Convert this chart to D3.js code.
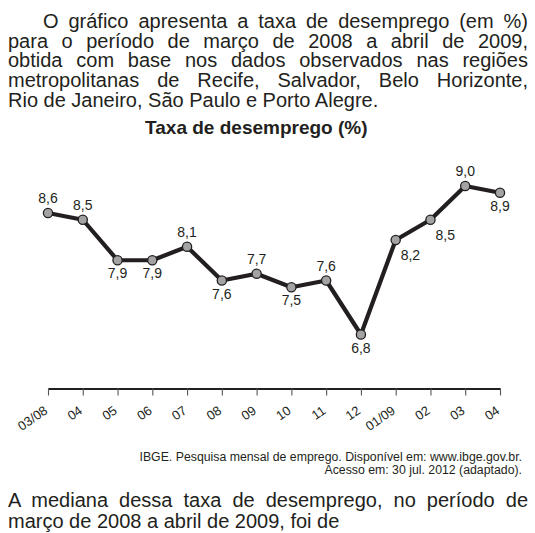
<!DOCTYPE html>
<html>
<head>
<meta charset="utf-8">
<script src="https://cdn.jsdelivr.net/npm/d3@7"></script>
<style>
  html, body { margin: 0; padding: 0; background: #fff; }
  svg { display: block; }
  text { font-family: "Liberation Sans", Arial, sans-serif; fill: #231f20; }
</style>
</head>
<body>
<svg id="chart" width="535" height="533"></svg>
<script>
// ---- data ----
const months = ["03/08","04","05","06","07","08","09","10","11","12","01/09","02","03","04"];
const values = [8.6, 8.5, 7.9, 7.9, 8.1, 7.6, 7.7, 7.5, 7.6, 6.8, 8.2, 8.5, 9.0, 8.9];
const labelSide = ["above","above","below","below","above","below","above","below","above","below","right","right","above","below"];
const title = "Taxa de desemprego (%)";
const introLines = [
  "O gráfico apresenta a taxa de desemprego (em %)",
  "para o período de março de 2008 a abril de 2009,",
  "obtida com base nos dados observados nas regiões",
  "metropolitanas de Recife, Salvador, Belo Horizonte,",
  "Rio de Janeiro, São Paulo e Porto Alegre."
];
const sourceLines = [
  "IBGE. Pesquisa mensal de emprego. Disponível em: www.ibge.gov.br.",
  "Acesso em: 30 jul. 2012 (adaptado)."
];
const questionLines = [
  "A mediana dessa taxa de desemprego, no período de",
  "março de 2008 a abril de 2009, foi de"
];

const svg = d3.select("#chart");
const ink = "#231f20";

// ---- justified paragraph helper (one text element, one tspan per line) ----
function paragraph(lines, x0, x1, firstIndent, y0, lh, size) {
  const t = svg.append("text").attr("font-size", size);
  lines.forEach((ln, i) => {
    const left = i === 0 ? x0 + firstIndent : x0;
    const ts = t.append("tspan")
      .attr("x", left).attr("y", y0 + i * lh)
      .text(ln);
    if (i < lines.length - 1) {
      const w = ts.node().getComputedTextLength();
      const gaps = ln.split(" ").length - 1;
      if (gaps > 0) ts.attr("word-spacing", (x1 - left - w) / gaps);
    }
  });
}

paragraph(introLines, 8, 528, 35, 28, 19.7, 20);
paragraph(questionLines, 8, 528, 0, 507, 21, 20);

const src = svg.append("text")
  .attr("text-anchor", "end")
  .attr("font-size", 12.3);
src.selectAll("tspan").data(sourceLines).join("tspan")
  .attr("x", 522).attr("y", (d, i) => 460.5 + i * 13)
  .text(d => d);

svg.append("text")
  .attr("x", 256.3).attr("y", 134.3)
  .attr("text-anchor", "middle")
  .attr("font-size", 19).attr("font-weight", "bold")
  .text(title);

// ---- scales ----
const x = d3.scaleLinear().domain([0, months.length - 1]).range([48, 500]);
const y = d3.scaleLinear().domain([6, 9]).range([388.5, 186]);

// ---- axis ----
const axis = d3.axisBottom(x)
  .tickValues(d3.range(months.length))
  .tickFormat(i => months[i])
  .tickSize(7).tickSizeOuter(0);

const gx = svg.append("g").attr("transform", `translate(0,${y(6)})`).call(axis);
gx.select(".domain").attr("stroke", ink).attr("stroke-width", 2.2);
gx.selectAll(".tick line").attr("stroke", "#555").attr("stroke-width", 1.1);
gx.selectAll(".tick text")
  .attr("fill", ink)
  .attr("font-size", 13)
  .attr("font-family", '"Liberation Sans", Arial, sans-serif')
  .attr("text-anchor", "end")
  .attr("dy", null)
  .attr("y", null)
  .attr("transform", "translate(0,24) rotate(-35)");

// ---- line ----
const line = d3.line().x((d, i) => x(i)).y(d => y(d));
svg.append("path")
  .datum(values)
  .attr("d", line)
  .attr("fill", "none")
  .attr("stroke", ink)
  .attr("stroke-width", 4.2)
  .attr("stroke-linejoin", "round");

svg.selectAll("circle.pt").data(values).join("circle")
  .attr("class", "pt")
  .attr("cx", (d, i) => x(i))
  .attr("cy", d => y(d))
  .attr("r", 4.6)
  .attr("fill", "#a3a3a3")
  .attr("stroke", ink)
  .attr("stroke-width", 1.3);

// ---- value labels ----
const fmt = d3.formatLocale({decimal: ",", thousands: ".", grouping: [3], currency: ["", ""]}).format(".1f");
svg.selectAll("text.val").data(values).join("text")
  .attr("class", "val")
  .attr("font-size", 14)
  .attr("x", (d, i) => labelSide[i] === "right" ? x(i) + 5 : x(i))
  .attr("y", (d, i) => {
    const s = labelSide[i];
    if (s === "above") return y(d) - 10;
    if (s === "below") return y(d) + 18;
    return y(d) + 20;
  })
  .attr("text-anchor", (d, i) => labelSide[i] === "right" ? "start" : "middle")
  .text(d => fmt(d));
</script>
</body>
</html>
